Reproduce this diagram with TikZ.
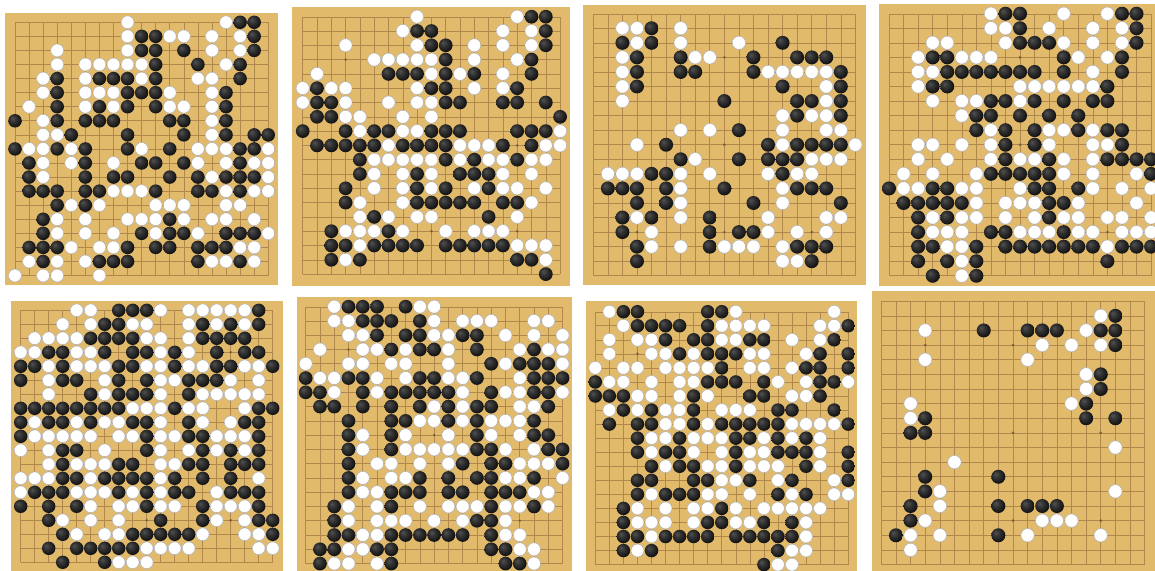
\documentclass[tikz,border=0pt]{standalone}

\definecolor{kaya}{RGB}{226,186,108}
\definecolor{kayaline}{RGB}{176,136,78}

% 棋子的明暗: 高光偏左上
\pgfdeclareradialshading{blackstone}{\pgfpoint{-10bp}{10bp}}{color(0bp)=(black!68); color(12bp)=(black!80); color(30bp)=(black!94); color(60bp)=(black)}
\pgfdeclareradialshading{whitestone}{\pgfpoint{-10bp}{10bp}}{color(0bp)=(white); color(22bp)=(white); color(45bp)=(black!10); color(60bp)=(black!28)}

\tikzset{
  wood/.style={fill=kaya},
  gridline/.style={draw=kayaline, line width=0.6pt},
  hoshi/.style={fill=kayaline!70!black},
  bstone/.style={shading=blackstone},
  wstone/.style={shading=whitestone, draw=black!30, line width=0.5pt},
}

% 一行 19 个字符: X 黑, O 白, . 空
\newcount\stonecol
\newcommand\stonerow[2]{\stonecol=0 \def\rowy{#1}\nextstone#2\relax}
\def\nextstone#1{%
  \ifx#1\relax\else
    \ifx#1X\shade[bstone] (\the\stonecol,-\rowy) circle (0.48);\fi
    \ifx#1O\shadedraw[wstone] (\the\stonecol,-\rowy) circle (0.46);\fi
    \advance\stonecol by 1
    \expandafter\nextstone
  \fi}

% 棋盘: 木板 (x1,y1)-(x2,y2), 左上交点 (gx,gy), 格距 s, 棋子
\newcommand\goban[8]{%
  \fill[wood] (#1,-#2) rectangle (#3,-#4);
  \begin{scope}[shift={(#5,-#6)}, scale=#7]
    \draw[gridline, step=1] (0,0) grid (18,-18);
    \foreach \hx in {3,9,15}
      \foreach \hy in {3,9,15}
        \fill[hoshi] (\hx,-\hy) circle (0.1);
    #8
  \end{scope}}

\begin{document}
\begin{tikzpicture}[x=1pt, y=1pt]
  % 单位: 像素, y 向下取负
  \fill[white] (0,0) rectangle (1155,-570);
  \useasboundingbox (0,0) rectangle (1155,-570);

  % 第一盘
  \goban{5}{13}{278}{285}{15}{22.3}{14.07}{%
    \stonerow{0}{........O......OXX.}
    \stonerow{1}{........OXXOO.O.OX.}
    \stonerow{2}{...O....OXX.X.O.OX.}
    \stonerow{3}{...O.OOOOOX..X.OX..}
    \stonerow{4}{..OX.OXXXOX..OO.X..}
    \stonerow{5}{..OX.OOOXXXO..OX...}
    \stonerow{6}{.O.X.OXOX.XOO.OX...}
    \stonerow{7}{X.OX.XXX...XX.OX...}
    \stonerow{8}{..OOX...X...X.OX.XX}
    \stonerow{9}{XOOXOX..XO.X.OOOXXO}
    \stonerow{10}{.XO.OX.O.XX.XO.OXOO}
    \stonerow{11}{.XO..X.XX..X.XOXXXO}
    \stonerow{12}{.XXX.XXOOOX..XXOXOO}
    \stonerow{13}{...XOXO...OOO..OO..}
    \stonerow{14}{..XO.O..OOOXO.OO.O.}
    \stonerow{15}{..XO.O.O.XOXXO.XXXO}
    \stonerow{16}{.XXXO.OOX.XX.XXXOO.}
    \stonerow{17}{.OXO.OXXX....XOOXO.}
    \stonerow{18}{O.OO..O............}
  }

  % 第二盘
  \goban{292}{7}{570}{286}{302.7}{16.7}{14.3}{%
    \stonerow{0}{........O......OXX.}
    \stonerow{1}{.......OXX....O.OX.}
    \stonerow{2}{...O....OXX.O.O.OX.}
    \stonerow{3}{.....OOOOOX.O..OX..}
    \stonerow{4}{.O....XXXOXOX.O.X..}
    \stonerow{5}{OXOO....OXX.O.OX...}
    \stonerow{6}{OXXO..O.OOXX..XX.X.}
    \stonerow{7}{.XXOO..O.O........X}
    \stonerow{8}{X..XOXXOOXXX...XXXO}
    \stonerow{9}{.XXXXXOXXXXOOOX.XOO}
    \stonerow{10}{....XOOOOOXOXOOXOO.}
    \stonerow{11}{....XO.OXO.XXXO.O..}
    \stonerow{12}{...X.O.OXOX.OXOO.O.}
    \stonerow{13}{...XO..OXXXXX.XXO..}
    \stonerow{14}{....OXO.OO...X.O...}
    \stonerow{15}{..XOOOXO..O.OOO....}
    \stonerow{16}{..XXOXXXX.XXXXXOOO.}
    \stonerow{17}{..XOX..........XXO.}
    \stonerow{18}{.................X.}
  }

  % 第三盘
  \goban{583}{5}{866}{285}{593.3}{13.7}{14.56}{%
    \stonerow{1}{..OOX.O............}
    \stonerow{2}{..XOX.O...O..X.....}
    \stonerow{3}{..OX..XOO..X..XXX..}
    \stonerow{4}{..OX..XX...XOOOOOX.}
    \stonerow{5}{..OX.........X..OX.}
    \stonerow{6}{..O......X....XXOX.}
    \stonerow{7}{.............OXOOX.}
    \stonerow{8}{......O.O.X..O..OO.}
    \stonerow{9}{...O.X......XOXXXXO}
    \stonerow{10}{......XO..X.XXXOOO.}
    \stonerow{11}{.OOOXXO.O...OXOO...}
    \stonerow{12}{.XXX.XO..X...OXXX..}
    \stonerow{13}{...X.XO....X.O...X.}
    \stonerow{14}{..XOX.O.X...O...OO.}
    \stonerow{15}{..X.O...X.XXO.O.O..}
    \stonerow{16}{...XO.O.XOOO.OXXX..}
    \stonerow{17}{...X.........OOX...}
  }

  % 第四盘 (右侧被裁)
  \goban{879}{4}{1160}{286}{889}{13.7}{14.56}{%
    \stonerow{0}{.......OXX..O..OXX.}
    \stonerow{1}{.......OOX.O..O.OX.}
    \stonerow{2}{...OO...OXXXO.O.OX.}
    \stonerow{3}{..OXXOOO....XO.OX..}
    \stonerow{4}{..OOXXXXXXX.X.O.X..}
    \stonerow{5}{..OXX....OOOOOOX...}
    \stonerow{6}{...O.OOXXOX.X.XX...}
    \stonerow{7}{.....OXX.X.X.X.....}
    \stonerow{8}{......XOX.XOOXOXX..}
    \stonerow{9}{..OO.O.OX.XO..OOX..}
    \stonerow{10}{..O.O..OXOOXO.OXXXX}
    \stonerow{11}{.O.O..OXXXXXO.O..OX}
    \stonerow{12}{XOOXXOO..OXX.XO.O.O}
    \stonerow{13}{.XXXXXO.OOOXXO...O.}
    \stonerow{14}{..XOXOO.O.OXOO.OO.O}
    \stonerow{15}{..XOOO.XXOOOXOO.OOO}
    \stonerow{16}{..XXOOX.XXXXXXXOXXX}
    \stonerow{17}{..X.XOX........X...}
    \stonerow{18}{...X.OX............}
  }

  % 第五盘
  \goban{11}{301}{283}{575}{20.7}{310.3}{14.0}{%
    \stonerow{0}{....OO.XXXO.OOOOOX.}
    \stonerow{1}{...O.OXXOO..OXOXOX.}
    \stonerow{2}{.OOOOXXXXOO.OXXXX..}
    \stonerow{3}{OOXXOOX.XXOXO.X.XX.}
    \stonerow{4}{XXOXOOOXXOOXOOXXOOX}
    \stonerow{5}{X.OXX.OX.XOOXXXO.O.}
    \stonerow{6}{..O..XOXXXO.XOOOOO.}
    \stonerow{7}{XXXXXXXXOOOXOO..OXX}
    \stonerow{8}{XOXXOXOOXXO.XO.OXX.}
    \stonerow{9}{XOOOOO.OOXOOXXOOOX.}
    \stonerow{10}{O.OXX.O..XO.OXOXOX.}
    \stonerow{11}{..OXOOOXX.OOXX.XXX.}
    \stonerow{12}{OOOXXOXXXXOX.X.X.O.}
    \stonerow{13}{OXXXOOOXOXOXX.OXXX.}
    \stonerow{14}{X.X.XO.OOXOO.XOOOX.}
    \stonerow{15}{..XO.O.O..X..XO.OXX}
    \stonerow{16}{...XO.OOXXXXXO..OOX}
    \stonerow{17}{..X.XXXXXOOOO....OO}
    \stonerow{18}{...X..XOOO.........}
  }

  % 第六盘
  \goban{297}{297}{572}{575}{305.7}{306.7}{14.27}{%
    \stonerow{0}{..OXXX.XOO.........}
    \stonerow{1}{..OOXXX.XO.OOO..OO.}
    \stonerow{2}{...OOX.XXOOXX.O.O.O}
    \stonerow{3}{.O..OOXOXXO.X..OXOO}
    \stonerow{4}{O..OO.OO..O..XOXXXO}
    \stonerow{5}{XOOXXO.OXXOOX..OXXX}
    \stonerow{6}{XXO.XOXXXXXO.XOOXXO}
    \stonerow{7}{.XX.X.X.XOXOXX.OOX.}
    \stonerow{8}{...X..XXOOXOXOOOX..}
    \stonerow{9}{...XO.XO..O.XO.OXX.}
    \stonerow{10}{...XO.XOOOOOXXO.OXX}
    \stonerow{11}{...X.OO.O.OX.XXOOOX}
    \stonerow{12}{...XO.OOX.X.XXOOX.O}
    \stonerow{13}{...XOOXXX.XX.XXXOO.}
    \stonerow{14}{..XO.OX.O.OOOXOOXO.}
    \stonerow{15}{..XO.OOO.O.OXXO....}
    \stonerow{16}{..XXOOXXXXXX.XOO...}
    \stonerow{17}{.XXOOXX......XXOO..}
    \stonerow{18}{.XOO.OX.......XXO..}
  }

  % 第七盘
  \goban{586}{301}{857}{575}{595.3}{311.7}{14.05}{%
    \stonerow{0}{.OXX....XXO......O.}
    \stonerow{1}{..OXXXX.XOOOO...OOX}
    \stonerow{2}{.O.OOX.XXOOXX.O.OX.}
    \stonerow{3}{.O..OOXOXXXOO..OX.X}
    \stonerow{4}{O.OO.OOOOX.OO.OXX.X}
    \stonerow{5}{XOO.O.OOXXX.XO.OXXO}
    \stonerow{6}{XXXOO.OXO..XX.OOX..}
    \stonerow{7}{.OXOXOOX.OOO.XX..X.}
    \stonerow{8}{.X.XXOOXOXXXXXOOOOX}
    \stonerow{9}{...XOOXOOOXXOXOXO..}
    \stonerow{10}{...XOXXO.OXOOXXXO.X}
    \stonerow{11}{....XOXXOOXOOO.XO.X}
    \stonerow{12}{...XX..XXOOX.OX..OX}
    \stonerow{13}{...XOXXXOO.O.XOX.OO}
    \stonerow{14}{..XO.O.OOXO.OOOOO..}
    \stonerow{15}{..XOOO.OXXOOX.XO...}
    \stonerow{16}{..XXOXXXX.XXXXXO...}
    \stonerow{17}{..XOX........XOO...}
    \stonerow{18}{............XOO....}
  }

  % 第八盘
  \goban{872}{291}{1160}{575}{881.3}{301.2}{14.63}{%
    \stonerow{1}{...............OX..}
    \stonerow{2}{...O...X..XXX.OXX..}
    \stonerow{3}{...........O.O.OX..}
    \stonerow{4}{...O......O........}
    \stonerow{5}{..............OX...}
    \stonerow{6}{..............OX...}
    \stonerow{7}{..O..........OX....}
    \stonerow{8}{..OX..........X.X..}
    \stonerow{9}{..XX...............}
    \stonerow{10}{................O..}
    \stonerow{11}{.....O.............}
    \stonerow{12}{...X....X..........}
    \stonerow{13}{...XO...........O..}
    \stonerow{14}{..X.O...X.XXX......}
    \stonerow{15}{..XO.......OOO.....}
    \stonerow{16}{.XO.O...X.O....O...}
    \stonerow{17}{..O................}
  }
\end{tikzpicture}
\end{document}
